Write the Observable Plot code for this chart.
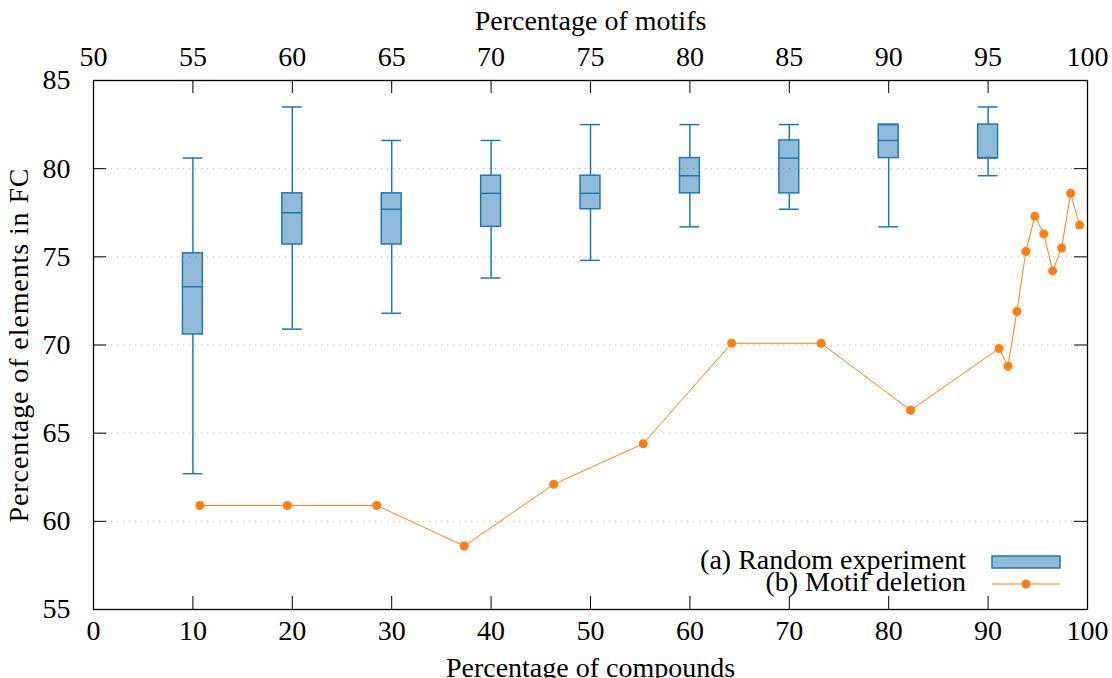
<!DOCTYPE html>
<html><head><meta charset="utf-8">
<script src="https://cdn.jsdelivr.net/npm/d3@7"></script>
<script src="https://cdn.jsdelivr.net/npm/@observablehq/plot@0.6"></script>
<style>html,body{margin:0;padding:0;background:#fff} svg{display:block}</style>
</head><body><div id="chart"></div>
<script>
// ---- data ----
const boxX        = [10, 20, 30, 40, 50, 60, 70, 80, 90];
const whiskerLow  = [62.7, 70.9, 71.8, 73.8, 74.8, 76.7, 77.7, 76.7, 79.6];
const q1          = [70.6, 75.7, 75.7, 76.7, 77.7, 78.6, 78.6, 80.6, 80.6];
const median      = [73.3, 77.5, 77.7, 78.6, 78.6, 79.6, 80.6, 81.6, 80.6];
const q3          = [75.2, 78.6, 78.6, 79.6, 79.6, 80.6, 81.6, 82.5, 82.5];
const whiskerHigh = [80.6, 83.5, 81.6, 81.6, 82.5, 82.5, 82.5, 82.5, 83.5];

const motifX = [10.7, 19.5, 28.5, 37.3, 46.3, 55.3, 64.2, 73.2, 82.2, 91.1, 92.0, 92.9, 93.8, 94.7, 95.6, 96.5, 97.4, 98.3, 99.2];
const motifY = [60.9, 60.9, 60.9, 58.6, 62.1, 64.4, 70.1, 70.1, 66.3, 69.8, 68.8, 71.9, 75.3, 77.3, 76.3, 74.2, 75.5, 78.6, 76.8];

const xTicks     = [0, 10, 20, 30, 40, 50, 60, 70, 80, 90, 100];
const motifTicks = [50, 55, 60, 65, 70, 75, 80, 85, 90, 95, 100];
const yTicks     = [55, 60, 65, 70, 75, 80, 85];
const gridValues = [60, 65, 70, 75, 80];

const xLabel   = "Percentage of compounds";
const topLabel = "Percentage of motifs";
const yLabel   = "Percentage of elements in FC";
const legendA  = "(a) Random experiment";
const legendB  = "(b) Motif deletion";

// ---- build ----
const boxes = boxX.map((x, i) => ({x, lo: whiskerLow[i], q1: q1[i], med: median[i], q3: q3[i], hi: whiskerHigh[i]}));
const motif = motifX.map((x, i) => ({x, y: motifY[i]}));

const half = 1; // half box width (x units)
const blue = "#1f77b4", orange = "#ff7f0e";
const font = "'Liberation Serif', 'Times New Roman', serif";
const W = 1112, H = 678, ML = 93, MR = 25, MT = 80, MB = 69;
const TL = 13;
const innerW = W - ML - MR, innerH = H - MT - MB;

const chart = Plot.plot({
  width: W, height: H,
  marginLeft: ML, marginRight: MR, marginTop: MT, marginBottom: MB,
  style: {fontFamily: font, fontSize: "28px", background: "white", color: "black"},
  x: {domain: [0, 100]},
  y: {domain: [55, 85]},
  marks: [
    Plot.gridY(gridValues, {stroke: "#b0b0b0", strokeOpacity: 1, strokeDasharray: "1.2,4.8", strokeWidth: 1}),
    Plot.ruleX(boxes, {x: "x", y1: "lo", y2: "q1", stroke: blue, strokeWidth: 1.5}),
    Plot.ruleX(boxes, {x: "x", y1: "q3", y2: "hi", stroke: blue, strokeWidth: 1.5}),
    Plot.rect(boxes, {x1: d => d.x - half, x2: d => d.x + half, y1: "q1", y2: "q3", fill: blue, fillOpacity: 0.5, stroke: blue, strokeWidth: 1.5}),
    Plot.ruleY(boxes, {y: "med", x1: d => d.x - half, x2: d => d.x + half, stroke: blue, strokeWidth: 1.5}),
    Plot.ruleY(boxes, {y: "lo", x1: d => d.x - half, x2: d => d.x + half, stroke: blue, strokeWidth: 1.5}),
    Plot.ruleY(boxes, {y: "hi", x1: d => d.x - half, x2: d => d.x + half, stroke: blue, strokeWidth: 1.5}),
    Plot.line(motif, {x: "x", y: "y", stroke: orange, strokeWidth: 1}),
    Plot.dot(motif, {x: "x", y: "y", r: 4.5, fill: orange}),
    Plot.tickX(xTicks, {x: d => d, insetTop: innerH - TL, stroke: "black", strokeWidth: 1}),
    Plot.tickX(xTicks, {x: d => d, insetBottom: innerH - TL, stroke: "black", strokeWidth: 1}),
    Plot.tickY(yTicks, {y: d => d, insetRight: innerW - TL, stroke: "black", strokeWidth: 1}),
    Plot.tickY(yTicks, {y: d => d, insetLeft: innerW - TL, stroke: "black", strokeWidth: 1}),
    Plot.axisX(xTicks, {anchor: "bottom", tickSize: 0, tickPadding: 11, fontSize: 28, label: null}),
    Plot.axisX(xTicks, {anchor: "top", tickSize: 0, tickPadding: 15, fontSize: 28, label: null,
      tickFormat: d => String(motifTicks[xTicks.indexOf(d)])}),
    Plot.axisY(yTicks, {anchor: "left", tickSize: 0, tickPadding: 23, fontSize: 28, label: null}),
    Plot.text([xLabel], {text: d => d, frameAnchor: "bottom", dy: 67, lineAnchor: "bottom", fontSize: 28}),
    Plot.text([topLabel], {text: d => d, frameAnchor: "top", dy: -51, lineAnchor: "bottom", fontSize: 28}),
    Plot.text([yLabel], {text: d => d, frameAnchor: "left", dx: -66, rotate: -90, lineAnchor: "bottom", textAnchor: "middle", fontSize: 28}),
    Plot.frame({stroke: "black", strokeWidth: 1.3})
  ]
});

const svg = d3.select(chart);
// wider spacing for the rotated label
svg.selectAll("text").filter(function() { return this.textContent === yLabel; })
  .style("letter-spacing", "0.9px");

// legend
const lg = svg.append("g").attr("font-family", font).attr("font-size", 28).attr("fill", "black");
lg.append("text").attr("x", 966).attr("y", 569).attr("text-anchor", "end").text(legendA);
lg.append("text").attr("x", 966).attr("y", 591).attr("text-anchor", "end").text(legendB);
lg.append("rect").attr("x", 992).attr("y", 556).attr("width", 68).attr("height", 12)
  .attr("fill", blue).attr("fill-opacity", 0.5).attr("stroke", blue).attr("stroke-width", 1.5);
lg.append("line").attr("x1", 992).attr("x2", 1060).attr("y1", 584).attr("y2", 584)
  .attr("stroke", orange).attr("stroke-width", 1);
lg.append("circle").attr("cx", 1026).attr("cy", 584).attr("r", 4.5).attr("fill", orange);

document.getElementById("chart").appendChild(chart);
</script>
</body></html>
